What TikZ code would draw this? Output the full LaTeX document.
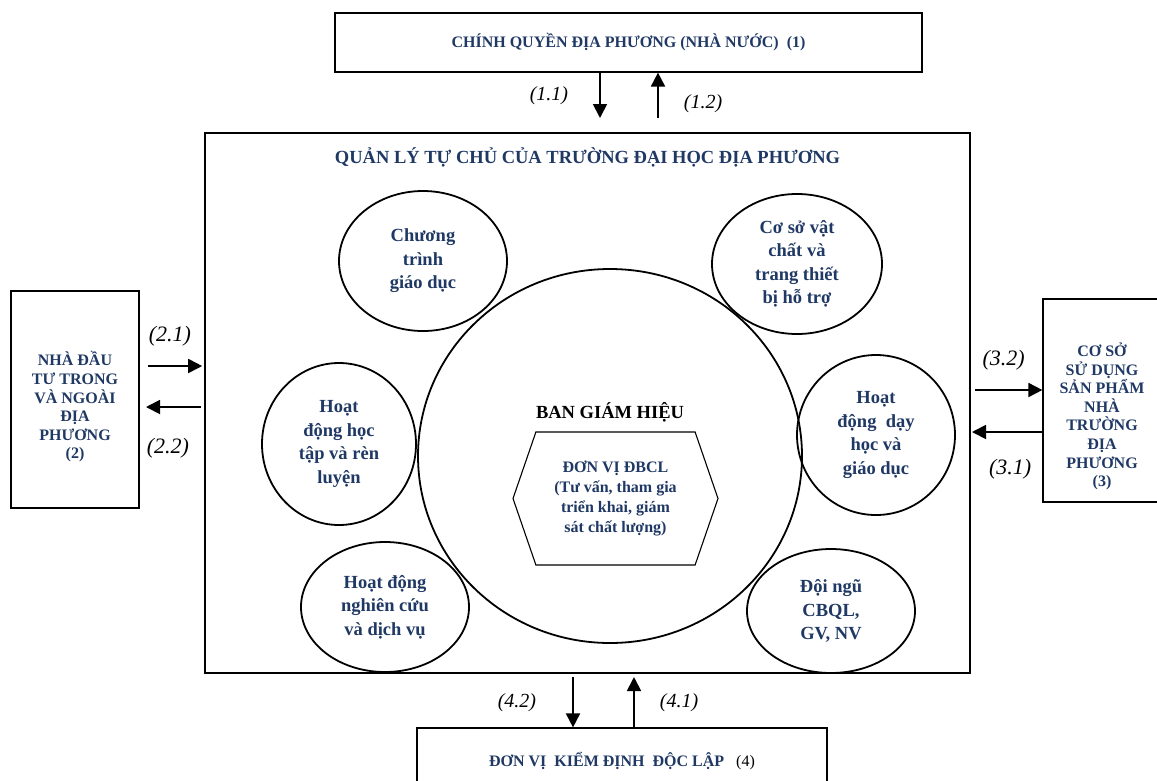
\documentclass[tikz,border=0pt]{standalone}
\usepackage{fontspec}
\setmainfont{Liberation Serif}
\usetikzlibrary{shapes, arrows.meta, positioning}
\definecolor{navy}{HTML}{1F3864}

\begin{document}
\begin{tikzpicture}[
    x=1pt, y=-1pt,
    box/.style={rectangle, draw, line width=1.2pt, inner sep=0pt},
    boxtext/.style={align=center, text=navy, font=\bfseries\fontsize{16}{18.6}\selectfont},
    bubble/.style={ellipse, draw, line width=1.8pt, inner sep=0pt, align=center, text=navy, font=\bfseries\fontsize{18.5}{23.5}\selectfont},
    hexa/.style={signal, signal to=east and west, signal pointer angle=142, draw, line width=1.1pt, inner sep=0pt, align=center, text=navy, font=\bfseries\fontsize{16}{20}\selectfont},
    tag/.style={inner sep=0pt, font=\itshape\fontsize{22}{26}\selectfont},
    smalltag/.style={tag, font=\itshape\fontsize{20}{24}\selectfont},
    arrow/.style={-{Triangle[length=14pt, width=14pt]}, line width=1.8pt},
]
\useasboundingbox (0,0) rectangle (1157,780);

% Chinh quyen (1)
\node[box, minimum width=587pt, minimum height=59pt] (gov) at (628.5,42.5) {};
\node[boxtext] (govtext) at (gov.center) {CHÍNH QUYỀN ĐỊA PHƯƠNG (NHÀ NƯỚC)\ \ (1)};

% Truong dai hoc
\node[box, line width=2.6pt, minimum width=765pt, minimum height=540pt] (main) at (587.5,403) {};
\node[text=navy, font=\bfseries\fontsize{18.5}{22}\selectfont] (maintitle) at (587.5,157) {QUẢN LÝ TỰ CHỦ CỦA TRƯỜNG ĐẠI HỌC ĐỊA PHƯƠNG};

% Nha dau tu (2)
\node[box, minimum width=128pt, minimum height=217pt] (inv) at (75,399.5) {};
\node[boxtext] (invtext) at (75,407) {NHÀ ĐẦU\\TƯ TRONG\\VÀ NGOÀI\\ĐỊA\\PHƯƠNG\\(2)};

% Co so su dung (3)
\node[box, minimum width=119pt, minimum height=203pt] (use) at (1102.5,400.5) {};
\node[boxtext] (usetext) at (1102,416.5) {CƠ SỞ\\SỬ DỤNG\\SẢN PHẨM\\NHÀ\\TRƯỜNG\\ĐỊA\\PHƯƠNG\\(3)};

% Kiem dinh (4)
\node[box, minimum width=410pt, minimum height=66pt] (ver) at (622,761) {};
\node[font=\fontsize{16}{18.6}\selectfont] (vertext) at (ver.center) {{\bfseries\color{navy}ĐƠN VỊ\ \ KIỂM ĐỊNH\ \ ĐỘC LẬP}\ \ \ (4)};

% Ban giam hieu
\node[ellipse, draw, line width=1.8pt, minimum width=384pt, minimum height=374pt] (board) at (610,456) {};
\node[font=\bfseries\fontsize{18.5}{22}\selectfont] (boardtext) at (610,412) {BAN GIÁM HIỆU};
\node[hexa, minimum width=205pt, minimum height=133pt] (dbcl) at (615.5,498.5) {ĐƠN VỊ ĐBCL\\(Tư vấn, tham gia\\triển khai, giám\\sát chất lượng)};

% Linh vuc
\node[bubble, minimum width=168pt, minimum height=140pt] (prog) at (423,261) {Chương\\trình\\giáo dục};
\node[bubble, minimum width=170pt, minimum height=140pt] (fac) at (797,264) {Cơ sở vật\\chất và\\trang thiết\\bị hỗ trợ};
\node[bubble, minimum width=154pt, minimum height=162pt] (learn) at (339,444) {Hoạt\\động học\\tập và rèn\\luyện};
\node[bubble, minimum width=158pt, minimum height=160pt] (teach) at (876,435) {Hoạt\\động\ \ dạy\\học và\\giáo dục};
\node[bubble, minimum width=168pt, minimum height=130pt] (research) at (385,607) {Hoạt động\\nghiên cứu\\và dịch vụ};
\node[bubble, minimum width=168pt, minimum height=124pt] (staff) at (831,611) {Đội ngũ\\CBQL,\\GV, NV};

% Arrows (1)
\coordinate (c11) at (600,118);
\coordinate (c12) at (658,118);
\draw[arrow] (c11 |- gov.south) -- (c11) node[smalltag, midway, left=31pt] {(1.1)};
\draw[arrow] (c12) -- (c12 |- gov.south) node[smalltag, midway, right=25pt, yshift=-8pt] {(1.2)};

% Arrows (2)
\coordinate (c21) at (148,366);
\coordinate (c22) at (146,407);
\draw[arrow, shorten >=1.5pt] (c21) -- (c21 -| main.west) node[tag, midway, above=19pt, xshift=-6pt] {(2.1)};
\draw[arrow, shorten <=3pt] (c22 -| main.west) -- (c22) node[tag, midway, below=30pt, xshift=-7pt] {(2.2)};

% Arrows (3)
\coordinate (c32) at (975,390);
\coordinate (c31) at (972,432);
\draw[arrow] (c32) -- (c32 -| use.west) node[tag, midway, above=19pt, xshift=-5pt] {(3.2)};
\draw[arrow] (c31 -| use.west) -- (c31) node[tag, midway, below=26pt, xshift=3pt] {(3.1)};

% Arrows (4)
\coordinate (c42) at (573,677);
\coordinate (c41) at (634,677);
\draw[arrow] (c42) -- (c42 |- ver.north) node[smalltag, midway, left=36pt] {(4.2)};
\draw[arrow] (c41 |- ver.north) -- (c41) node[smalltag, midway, right=25pt] {(4.1)};

\end{tikzpicture}
\end{document}
